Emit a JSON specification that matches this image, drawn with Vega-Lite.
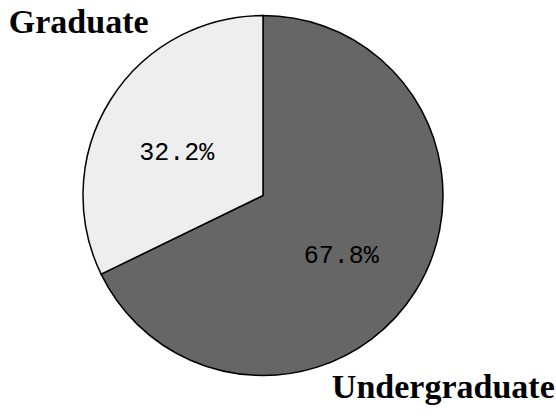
{
  "$schema": "https://vega.github.io/schema/vega-lite/v6.json",
  "autosize": "none",
  "width": 526,
  "height": 391,
  "padding": {"left": 0, "top": 0, "right": 30, "bottom": 28},
  "background": "white",
  "view": {"stroke": null},
  "data": {"values": [
    {"group": "Undergraduate", "share": 67.8, "pct": "67.8%", "rank": 1},
    {"group": "Graduate", "share": 32.2, "pct": "32.2%", "rank": 2}
  ]},
  "encoding": {
    "theta": {"field": "share", "type": "quantitative", "stack": true},
    "order": {"field": "rank", "type": "quantitative"}
  },
  "layer": [
    {
      "mark": {"type": "arc", "outerRadius": 180, "stroke": "black", "strokeWidth": 1.5},
      "encoding": {
        "color": {"field": "group", "type": "nominal", "legend": null,
          "scale": {"domain": ["Undergraduate", "Graduate"], "range": ["#666666", "#eeeeee"]}}
      }
    },
    {
      "mark": {"type": "text", "radius": 97, "dx": -4, "dy": 8, "font": "Liberation Mono", "fontSize": 25, "color": "black"},
      "encoding": {"text": {"field": "pct"}}
    },
    {
      "mark": {"type": "text", "radius": 258, "thetaOffset": 0.227, "dx": -2, "dy": 10, "font": "Liberation Serif", "fontWeight": "bold", "fontSize": 34, "color": "black"},
      "encoding": {"text": {"field": "group"}}
    }
  ]
}
